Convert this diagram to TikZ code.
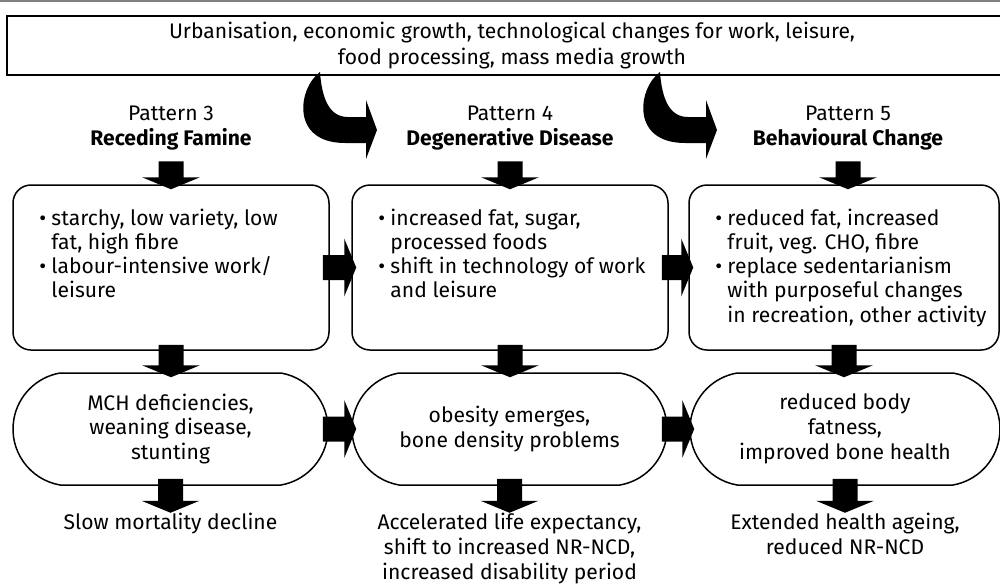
\documentclass[tikz,border=0pt]{standalone}
\usepackage{fontspec}
\setmainfont{Fira Sans}
\usetikzlibrary{positioning, shapes.misc, calc}

\newlength{\upx}
\setlength{\upx}{0.03cm}
\newcommand{\bul}{\makebox[12\upx][l]{\textbullet}}
\newcommand{\ind}{\hspace*{12\upx}}

\begin{document}
\begin{tikzpicture}[x=\upx, y=-\upx,
    txt/.style={font=\fontsize{18}{21.3}\selectfont, inner sep=0pt},
    list/.style={font=\fontsize{18}{20.5}\selectfont, inner sep=0pt, align=left},
    card/.style={draw, line width=1.5\upx, rounded corners=18\upx,
        minimum width=316\upx, minimum height=165\upx, inner sep=0pt},
    pill/.style={txt, draw, rounded rectangle, rounded rectangle arc length=160,
        line width=1.5\upx, minimum width=315\upx, minimum height=112\upx, align=center},
    % block arrows: 25px shaft, 58px wide and 12px long head
    fatdown/.style={to path={
        let \p1=(\tikztostart), \p2=(\tikztotarget) in
        (\x1-12.5\upx,\y1) -- (\x1+12.5\upx,\y1) -- (\x1+12.5\upx,\y2+12\upx)
        -- (\x1+29\upx,\y2+12\upx) -- (\x1,\y2) -- (\x1-29\upx,\y2+12\upx)
        -- (\x1-12.5\upx,\y2+12\upx) -- cycle}},
    fatright/.style={to path={
        let \p1=(\tikztostart), \p2=(\tikztotarget) in
        (\x1,\y1+12.5\upx) -- (\x2-12\upx,\y1+12.5\upx) -- (\x2-12\upx,\y1+29\upx)
        -- (\x2,\y1) -- (\x2-12\upx,\y1-29\upx) -- (\x2-12\upx,\y1-12.5\upx)
        -- (\x1,\y1-12.5\upx) -- cycle}}]

\useasboundingbox (0,0) rectangle (1000,583);

% ==== TOP RULE AND DRIVERS BOX ====
\draw[gray, line width=2\upx] (0,1) -- (1000,1);
\node[txt, draw, line width=1.5\upx, minimum width=1010\upx, minimum height=59\upx,
    align=center] (top) at (512,45.5)
    {Urbanisation, economic growth, technological changes for work, leisure,\\[1\upx]
     food processing, mass media growth};

% ==== PATTERN HEADINGS ====
\node[txt, align=center] (p3) at (171,128) {Pattern 3\\\textbf{Receding Famine}};
\node[txt, align=center] (p4) at (510,128) {Pattern 4\\\textbf{Degenerative Disease}};
\node[txt, align=center] (p5) at (848,128) {Pattern 5\\\textbf{Behavioural Change}};

% ==== CURVED ARROWS FROM THE DRIVERS ====
\foreach \dx in {0,340}{
    \fill[xshift=\dx\upx] (320,72) .. controls (298,88) and (290,143) .. (345,143)
        -- (366,143) -- (366,159) -- (377,130) -- (366,100) -- (366,117) -- (348,117)
        .. controls (330,117) and (322,100) .. cycle;
}

% ==== DIET AND ACTIVITY ====
\node[card] (c3) at (171,267.5) {};
\node[card] (c4) at (510,267.5) {};
\node[card, minimum width=310\upx] (c5) at (844,267.5) {};

\node[list, below right=25\upx and 27\upx of c3.north west] (d3)
    {\bul starchy, low variety, low\\ \ind fat, high fibre\\
     \bul labour-intensive work/\\ \ind leisure};
\node[list, below right=25\upx and 27\upx of c4.north west] (d4)
    {\bul increased fat, sugar,\\ \ind processed foods\\
     \bul shift in technology of work\\ \ind and leisure};
\node[list, below right=25\upx and 27\upx of c5.north west] (d5)
    {\bul reduced fat, increased\\ \ind fruit, veg. CHO, fibre\\
     \bul replace sedentarianism\\ \ind with purposeful changes\\
     \ind in recreation, other activity};

% ==== BODY OUTCOMES ====
\node[pill] (r3) at (170.5,429) {MCH deficiencies,\\weaning disease,\\stunting};
\node[pill] (r4) at (509.5,429) {obesity emerges,\\bone density problems};
\node[pill, minimum width=310\upx] (r5) at (845,429) {reduced body\\fatness,\\improved bone health};

% ==== HEALTH OUTCOMES ====
\node[txt, align=center, below=27\upx of r3] (o3) {Slow mortality decline};
\node[txt, align=center, below=27\upx of r4] (o4)
    {Accelerated life expectancy,\\shift to increased NR-NCD,\\increased disability period};
\node[txt, align=center, below=27\upx of r5] (o5) {Extended health ageing,\\reduced NR-NCD};

% ==== BLOCK ARROWS ====
\foreach \c in {3,4,5}{
    \fill ([yshift=-11\upx]p\c.south) to[fatdown] ([yshift=-5\upx]c\c.north);
    \fill ([yshift=6\upx]c\c.south) to[fatdown] ([yshift=-5\upx]r\c.north);
    \fill ([yshift=7\upx]r\c.south) to[fatdown] (o\c.north);
}
\fill ([xshift=-7\upx]c3.east) to[fatright] ([xshift=5\upx]c4.west);
\fill ([xshift=-7\upx]c4.east) to[fatright] ([xshift=5\upx]c5.west);
\fill ([xshift=-6\upx]r3.east) to[fatright] ([xshift=5\upx]r4.west);
\fill ([xshift=-6\upx]r4.east) to[fatright] ([xshift=5\upx]r5.west);

\end{tikzpicture}
\end{document}
